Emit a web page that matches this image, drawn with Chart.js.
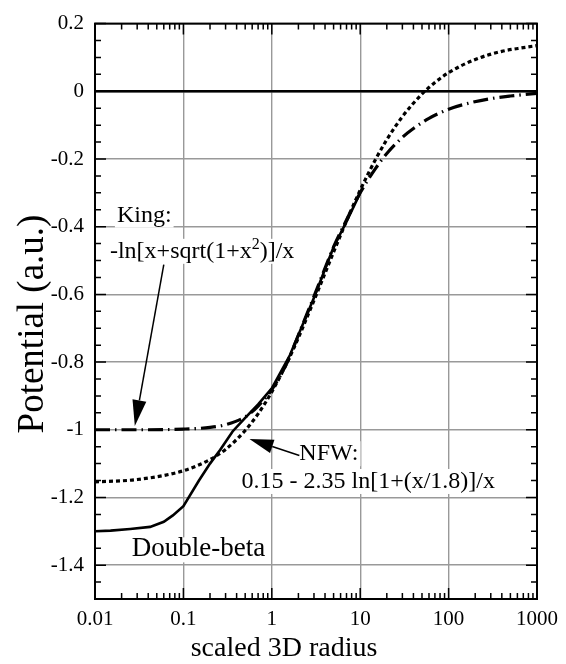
<!DOCTYPE html>
<html>
<head>
<meta charset="utf-8">
<script src="https://cdn.jsdelivr.net/npm/chart.js@4.4.1/dist/chart.umd.min.js"></script>
<style>
  body { margin: 0; background: #fff; }
  #wrap { width: 566px; height: 664px; }
</style>
</head>
<body>
<div id="wrap"><canvas id="pot"></canvas></div>
<script>
// ----------------- DATA -----------------
const xTicks = [0.01, 0.1, 1, 10, 100, 1000];
const yTicks = [-1.4, -1.2, -1, -0.8, -0.6, -0.4, -0.2, 0, 0.2];

// Double-beta (solid)
const betaX = [0.01, 0.015, 0.025, 0.042, 0.06, 0.076, 0.1, 0.15, 0.2, 0.26, 0.36, 0.5, 0.7, 1, 1.6, 3, 5, 7, 10];
const betaY = [-1.30, -1.298, -1.293, -1.287, -1.272, -1.253, -1.226, -1.15, -1.10, -1.06, -1.005, -0.965, -0.925, -0.878, -0.78, -0.61, -0.46, -0.385, -0.30];

// King (dash-dot)
const kingX = [0.01, 0.03, 0.1, 0.2, 0.3, 0.5, 0.7, 1, 1.5, 2, 3, 5, 7, 10, 15, 20, 30, 40, 60, 100, 170, 280, 500, 1000];
const kingY = [-1.0, -1.0, -0.998, -0.993, -0.985, -0.962, -0.93, -0.881, -0.80, -0.72, -0.606, -0.46, -0.38, -0.30, -0.227, -0.184, -0.136, -0.110, -0.08, -0.053, -0.035, -0.023, -0.014, -0.006];

// NFW (short dashes)
const nfwX = [0.01, 0.03, 0.1, 0.2, 0.3, 0.5, 0.7, 1, 1.5, 2, 3, 5, 7, 10, 15, 20, 30, 50, 70, 100, 200, 400, 700, 1000];
const nfwY = [-1.154, -1.147, -1.121, -1.088, -1.058, -1.002, -0.953, -0.888, -0.80, -0.728, -0.618, -0.475, -0.383, -0.292, -0.20, -0.143, -0.075, -0.008, 0.026, 0.055, 0.094, 0.118, 0.129, 0.135];

const zeroX = [0.01, 1000];
const zeroY = [0, 0];

const FONT = "'Liberation Serif', 'DejaVu Serif', serif";

function pts(xs, ys) {
  return xs.map((x, i) => ({ x: x, y: ys[i] }));
}

// ----------------- FRAME + TICKS -----------------
const framePlugin = {
  id: "frame",
  afterDatasetsDraw(chart) {
    const { ctx, chartArea: a, scales: { x, y } } = chart;
    ctx.save();
    ctx.strokeStyle = "#000";
    ctx.lineWidth = 1.5;
    ctx.beginPath();
    // y ticks every 0.05, major every 0.2
    for (let k = -30; k <= 4; k++) {
      const v = k * 0.05;
      const py = y.getPixelForValue(v);
      const len = (k % 4 === 0) ? 11 : 6;
      ctx.moveTo(a.left, py); ctx.lineTo(a.left + len, py);
      ctx.moveTo(a.right, py); ctx.lineTo(a.right - len, py);
    }
    // x ticks, decades + minors
    xTicks.forEach((d, i) => {
      const px = x.getPixelForValue(d);
      ctx.moveTo(px, a.bottom); ctx.lineTo(px, a.bottom - 11);
      ctx.moveTo(px, a.top); ctx.lineTo(px, a.top + 11);
      if (i === xTicks.length - 1) return;
      for (let m = 2; m <= 9; m++) {
        const mx = x.getPixelForValue(d * m);
        ctx.moveTo(mx, a.bottom); ctx.lineTo(mx, a.bottom - 6);
        ctx.moveTo(mx, a.top); ctx.lineTo(mx, a.top + 6);
      }
    });
    ctx.stroke();
    ctx.lineWidth = 2;
    ctx.strokeRect(a.left, a.top, a.right - a.left, a.bottom - a.top);

    // axis titles
    ctx.fillStyle = "#000";
    ctx.textAlign = "center";
    ctx.textBaseline = "alphabetic";
    ctx.font = "28px " + FONT;
    ctx.fillText("scaled 3D radius", 284, 656);
    ctx.font = "37px " + FONT;
    ctx.translate(43, 324);
    ctx.rotate(-Math.PI / 2);
    ctx.fillText("Potential (a.u.)", 0, 0);
    ctx.restore();
  }
};

// ----------------- ANNOTATIONS -----------------
function boxText(ctx, parts, px, py) {
  // parts: [text, size, rise]
  let w = 0;
  parts.forEach(p => { ctx.font = p[1] + "px " + FONT; w += ctx.measureText(p[0]).width; });
  ctx.fillStyle = "#fff";
  ctx.fillRect(px - 2, py - 19, w + 4, 25);
  ctx.fillStyle = "#000";
  let cx = px;
  parts.forEach(p => {
    ctx.font = p[1] + "px " + FONT;
    ctx.fillText(p[0], cx, py - p[2]);
    cx += ctx.measureText(p[0]).width;
  });
}

function arrow(ctx, x0, y0, x1, y1, len, half) {
  const ang = Math.atan2(y1 - y0, x1 - x0);
  const bx = x1 - len * Math.cos(ang), by = y1 - len * Math.sin(ang);
  ctx.beginPath();
  ctx.moveTo(x0, y0); ctx.lineTo(bx, by);
  ctx.stroke();
  ctx.beginPath();
  ctx.moveTo(x1, y1);
  ctx.lineTo(bx + half * Math.sin(ang), by - half * Math.cos(ang));
  ctx.lineTo(bx - half * Math.sin(ang), by + half * Math.cos(ang));
  ctx.closePath();
  ctx.fill();
}

const notePlugin = {
  id: "notes",
  afterDatasetsDraw(chart) {
    const { ctx, scales: { x, y } } = chart;
    const X = v => x.getPixelForValue(v), Y = v => y.getPixelForValue(v);
    ctx.save();
    ctx.textAlign = "left";
    ctx.textBaseline = "alphabetic";
    boxText(ctx, [["King:", 24, 0]], X(0.0177), Y(-0.385));
    boxText(ctx, [["-ln[x+sqrt(1+x", 24, 0], ["2", 16, 9], [")]/x", 24, 0]], X(0.01476), Y(-0.492));
    boxText(ctx, [["NFW:", 24, 0]], X(2.05), Y(-1.09));
    boxText(ctx, [["0.15 - 2.35 ln[1+(x/1.8)]/x", 24, 0]], X(0.454), Y(-1.172));
    boxText(ctx, [["Double-beta", 27, 0]], X(0.0261), Y(-1.374));

    ctx.strokeStyle = "#000";
    ctx.fillStyle = "#000";
    ctx.lineWidth = 1.5;
    arrow(ctx, X(0.060), Y(-0.512), X(0.0282), Y(-0.989), 26, 7);
    arrow(ctx, X(2.05), Y(-1.076), X(0.559), Y(-1.027), 24, 7);
    ctx.restore();
  }
};

// ----------------- CHART -----------------
const line = (data, dash, width, smooth) => ({
  data: data,
  borderColor: "#000",
  borderWidth: width,
  borderDash: dash,
  pointRadius: 0,
  fill: false,
  cubicInterpolationMode: smooth ? "monotone" : "default",
  tension: 0
});

new Chart(document.getElementById("pot"), {
  type: "line",
  data: {
    datasets: [
      line(pts(zeroX, zeroY), [], 2.5, false),
      line(pts(nfwX, nfwY), [4, 3], 3.2, true),
      line(pts(kingX, kingY), [15, 5, 1.5, 5], 3.2, true),
      line(pts(betaX, betaY), [], 2.6, false)
    ]
  },
  options: {
    responsive: true,
    maintainAspectRatio: false,
    animation: false,
    layout: { padding: { left: 0, right: 27, top: 12, bottom: 0 } },
    plugins: { legend: { display: false }, tooltip: { enabled: false } },
    scales: {
      x: {
        type: "logarithmic",
        min: 0.01,
        max: 1000,
        afterBuildTicks: s => { s.ticks = xTicks.map(v => ({ value: v })); },
        afterFit: s => { s.height = 65; },
        ticks: {
          padding: 8,
          color: "#000",
          maxRotation: 0,
          autoSkip: false,
          font: { family: FONT, size: 21 },
          callback: v => String(v)
        },
        grid: { color: "#999", lineWidth: 1.4, drawTicks: false },
        border: { display: false }
      },
      y: {
        type: "linear",
        min: -1.5,
        max: 0.2,
        afterBuildTicks: s => { s.ticks = yTicks.map(v => ({ value: v })); },
        afterFit: s => { s.width = 95; },
        ticks: {
          padding: 11,
          color: "#000",
          font: { family: FONT, size: 21 },
          callback: v => String(Number(v.toFixed(1)))
        },
        grid: { color: "#999", lineWidth: 1.4, drawTicks: false },
        border: { display: false }
      }
    }
  },
  plugins: [framePlugin, notePlugin]
});
</script>
</body>
</html>
